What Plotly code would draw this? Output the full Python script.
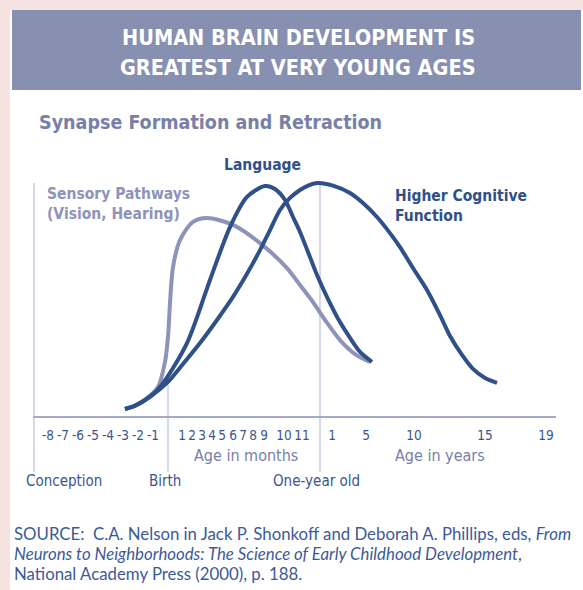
import plotly.graph_objects as go

W, H = 583, 590

# ---- data (timeline position, relative synapse density) ----
sensory_x = [125, 135, 145, 158, 165, 168, 170, 173, 180, 193, 207, 233, 260, 287, 300, 313, 325, 340, 355, 370]
sensory_y = [3.0, 4.5, 6.9, 12.4, 23.2, 33.9, 48.5, 63.9, 75.5, 83.3, 85.0, 82.0, 74.2, 63.5, 56.2, 48.9, 41.2, 32.6, 26.6, 23.2]

language_x = [125, 135, 145, 160, 187, 210, 230, 247, 265, 275, 285, 293, 300, 308, 317, 328, 340, 350, 360, 372]
language_y = [3.0, 4.5, 6.9, 12.4, 31.3, 58.4, 81.1, 94.0, 98.7, 97.4, 92.7, 85.4, 79.0, 70.4, 60.5, 50.2, 40.3, 33.5, 27.5, 23.2]

cognitive_x = [125, 135, 150, 167, 183, 200, 217, 233, 247, 260, 270, 280, 290, 300, 308, 317,
               333, 350, 363, 377, 390, 400, 413, 427, 440, 450, 462, 473, 485, 497]
cognitive_y = [3.0, 4.3, 8.2, 14.2, 22.3, 31.3, 41.2, 51.1, 61.0, 71.2, 79.8, 88.4, 93.6, 97.0, 98.9, 100.0,
               98.9, 95.7, 91.4, 85.4, 78.5, 72.5, 63.5, 54.1, 43.3, 34.3, 26.2, 20.2, 16.3, 14.2]

tick_labels = ["-8", "-7", "-6", "-5", "-4", "-3", "-2", "-1",
               "1", "2", "3", "4", "5", "6", "7", "8", "9", "10", "11",
               "1", "5", "10", "15", "19"]
tick_positions = [48, 63, 78, 93, 108, 123, 138, 153,
                  182, 192, 202, 212, 222, 233, 243, 253, 264, 284, 302,
                  332, 366, 414, 485, 546]

DARK = "#2f5089"
LIGHT = "#8d93b9"
TXT = "#3a5590"
COND = "Liberation Sans Narrow, DejaVu Sans Condensed, Roboto Condensed, Roboto, sans-serif"


def py(p):
    return 1 - p / H


def px(p):
    return p / W


fig = go.Figure()
for xs, ys, col in [(sensory_x, sensory_y, LIGHT), (language_x, language_y, DARK),
                    (cognitive_x, cognitive_y, DARK)]:
    fig.add_trace(go.Scatter(x=xs, y=ys, mode="lines",
                             line=dict(color=col, width=4, shape="spline", smoothing=0.8),
                             hoverinfo="skip", showlegend=False))

shapes = [
    dict(type="rect", xref="paper", yref="paper", x0=px(10), x1=1, y0=0, y1=py(10),
         fillcolor="white", line=dict(width=0), layer="below"),
    dict(type="rect", xref="paper", yref="paper", x0=px(12), x1=px(581), y0=py(90), y1=py(10),
         fillcolor="#8890b2", line=dict(width=0), layer="below"),
    dict(type="line", xref="x", yref="paper", x0=34, x1=34, y0=py(183), y1=py(472),
         line=dict(color="#c9cce0", width=1.5), layer="below"),
    dict(type="line", xref="x", yref="paper", x0=168, x1=168, y0=py(385), y1=py(472),
         line=dict(color="#c9cce0", width=1.5), layer="below"),
    dict(type="line", xref="x", yref="paper", x0=320, x1=320, y0=py(185), y1=py(472),
         line=dict(color="#c9cce0", width=1.5), layer="below"),
]

ann = []


def add(text, x, y, size, color, xanchor="center", xref="paper", family=COND, align="center"):
    ann.append(dict(text=text, x=x, y=y, xref=xref, yref="paper", showarrow=False,
                    font=dict(family=family, size=size, color=color),
                    xanchor=xanchor, yanchor="middle", align=align))


add("<b>HUMAN BRAIN DEVELOPMENT IS</b>", px(298), py(38), 21.5, "white")
add("<b>GREATEST AT VERY YOUNG AGES</b>", px(298), py(68), 21.5, "white")
add("<b>Synapse Formation and Retraction</b>", px(37), py(123), 19.5, "#7880a8", xanchor="left")
add("<b>Language</b>", 262, py(165), 15.5, DARK, xref="x")
add("<b>Sensory Pathways<br>(Vision, Hearing)</b>", 45, py(204), 15.5, LIGHT, xanchor="left", xref="x", align="left")
add("<b>Higher Cognitive<br>Function</b>", 393, py(206), 15.5, DARK, xanchor="left", xref="x", align="left")
add("Age in months", 246, py(455), 16, "#7880a8", xref="x")
add("Age in years", 440, py(455), 16, "#7880a8", xref="x")
add("Conception", 64, py(481), 15, TXT, xref="x")
add("Birth", 165, py(481), 15, TXT, xref="x")
add("One-year old", 316, py(481), 15, TXT, xref="x")

src_font = "Lato, Open Sans, sans-serif"
add("SOURCE:  C.A. Nelson in Jack P. Shonkoff and Deborah A. Phillips, eds, <i>From</i>",
    px(12), py(533), 16.8, "#3d5a98", xanchor="left", family=src_font, align="left")
add("<i>Neurons to Neighborhoods: The Science of Early Childhood Development</i>,",
    px(12), py(553), 16.8, "#3d5a98", xanchor="left", family=src_font, align="left")
add("National Academy Press (2000), p. 188.",
    px(12), py(573), 16.8, "#3d5a98", xanchor="left", family=src_font, align="left")

fig.update_layout(
    width=W, height=H, autosize=False,
    margin=dict(l=0, r=0, t=0, b=0, pad=0),
    paper_bgcolor="#f7e2e2", plot_bgcolor="rgba(0,0,0,0)",
    shapes=shapes, annotations=ann, showlegend=False,
    xaxis=dict(domain=[33 / W, 556 / W], range=[33, 556], showgrid=False, zeroline=False,
               showline=True, linecolor="#a6aac8", linewidth=2,
               tickmode="array", tickvals=tick_positions, ticktext=tick_labels,
               ticks="", ticklabelstandoff=6,
               tickfont=dict(family=COND, size=13.5, color=TXT), fixedrange=True),
    yaxis=dict(domain=[(H - 416) / H, (H - 150) / H], range=[0, (416 - 150) / 2.33],
               visible=False, fixedrange=True),
)

fig.write_html("out.html", config={"displayModeBar": False},
               post_script="document.body.style.margin='0px';document.body.style.overflow='hidden';")
